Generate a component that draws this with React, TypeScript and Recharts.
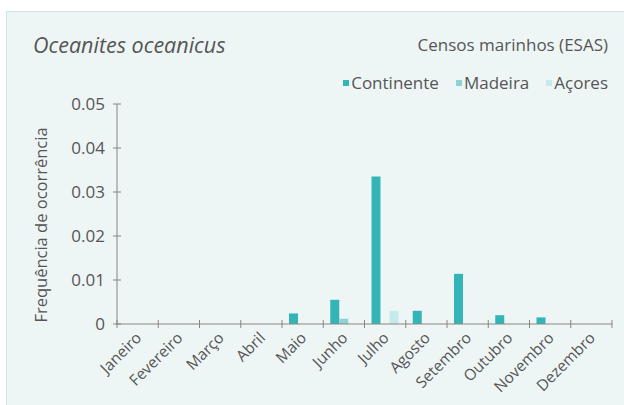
import React from 'react';
import { BarChart, Bar, XAxis, YAxis } from 'recharts';

const months = ['Janeiro', 'Fevereiro', 'Março', 'Abril', 'Maio', 'Junho', 'Julho', 'Agosto', 'Setembro', 'Outubro', 'Novembro', 'Dezembro'];
const continente = [0, 0, 0, 0, 0.0024, 0.0055, 0.0335, 0.003, 0.0114, 0.002, 0.0015, 0];
const madeira = [0, 0, 0, 0, 0, 0.0012, 0, 0, 0, 0, 0, 0];
const acores = [0, 0, 0, 0, 0, 0, 0.003, 0, 0, 0, 0, 0];
const yTicks = [0, 0.01, 0.02, 0.03, 0.04, 0.05];

const seriesNames = ['Continente', 'Madeira', 'Açores'];
const seriesColors = ['#33b5b8', '#8dd2d6', '#c6e9eb'];

const data = months.map((m, i) => ({ month: m, Continente: continente[i], Madeira: madeira[i], Açores: acores[i] }));

const FONT = '"Open Sans", sans-serif';
const TEXT = '#555555';
const AXIS = '#8a8583';

const XTick = (props: any) => {
  const { x, y, payload, index } = props;
  const half = payload && payload.offset ? payload.offset : 20.625;
  const ay = y - 4;
  return (
    <g>
      <line x1={x - half} x2={x - half} y1={ay - 4} y2={ay + 4} stroke={AXIS} strokeWidth={1} />
      {index === months.length - 1 ? (
        <line x1={x + half} x2={x + half} y1={ay - 4} y2={ay + 4} stroke={AXIS} strokeWidth={1} />
      ) : null}
      <g transform={`translate(${x + 1},${y + 7})`}>
        <text transform="rotate(-45)" textAnchor="end" fill={TEXT} fontSize={15.5} fontFamily={FONT} dy="0.35em">
          {payload.value}
        </text>
      </g>
    </g>
  );
};

const YTick = (props: any) => {
  const { x, y, payload } = props;
  const v = payload.value;
  const label = v === 0 ? '0' : v.toFixed(2);
  return (
    <g>
      <line x1={x - 4} x2={x + 4} y1={y} y2={y} stroke={AXIS} strokeWidth={1} />
      <text x={x - 12} y={y} textAnchor="end" dy="0.35em" fill={TEXT} fontSize={17} fontFamily={FONT}>
        {label}
      </text>
    </g>
  );
};

export default function App() {
  return (
    <div style={{ position: 'absolute', left: 0, top: 0, width: 624, height: 405, background: '#ffffff', overflow: 'hidden' }}>
      <div
        style={{
          position: 'absolute',
          left: 6,
          top: 11,
          width: 630,
          height: 400,
          background: '#eef6f5',
          border: '1px solid #cfe6e4',
        }}
      />
      <div style={{ position: 'absolute', left: 0, top: 0 }}>
        <BarChart
          width={624}
          height={405}
          data={data}
          margin={{ top: 104, right: 12, bottom: 0, left: 0 }}
          barCategoryGap={7}
          barGap={0}
        >
          <XAxis
            dataKey="month"
            height={81}
            tickLine={false}
            tickSize={4}
            tickMargin={0}
            interval={0}
            axisLine={{ stroke: AXIS }}
            tick={<XTick />}
          />
          <YAxis
            width={117}
            domain={[0, 0.05]}
            ticks={yTicks}
            tickLine={false}
            tickSize={0}
            tickMargin={0}
            axisLine={{ stroke: AXIS }}
            tick={<YTick />}
            label={{
              value: 'Frequência de ocorrência',
              angle: -90,
              position: 'insideLeft',
              dx: 36,
              dy: 11,
              style: { fill: TEXT, fontSize: 16.5, fontFamily: FONT, textAnchor: 'middle' },
            }}
          />
          {seriesNames.map((s, i) => (
            <Bar key={s} dataKey={s} fill={seriesColors[i]} isAnimationActive={false} />
          ))}
        </BarChart>
      </div>
      <div style={{ position: 'absolute', left: 33, top: 30, fontFamily: FONT, fontStyle: 'italic', fontSize: 21.5, color: TEXT, whiteSpace: 'nowrap' }}>
        Oceanites oceanicus
      </div>
      <div style={{ position: 'absolute', right: 16, top: 33, fontFamily: FONT, fontSize: 17, color: TEXT, whiteSpace: 'nowrap' }}>
        Censos marinhos (ESAS)
      </div>
      <div style={{ position: 'absolute', right: 16, top: 71, display: 'flex', gap: 17, fontFamily: FONT, fontSize: 17, color: TEXT, whiteSpace: 'nowrap' }}>
        {seriesNames.map((s, i) => (
          <div key={s} style={{ display: 'flex', alignItems: 'center' }}>
            <span style={{ display: 'inline-block', width: 6, height: 6, background: seriesColors[i], marginRight: 2 }} />
            <span>{s}</span>
          </div>
        ))}
      </div>
    </div>
  );
}
